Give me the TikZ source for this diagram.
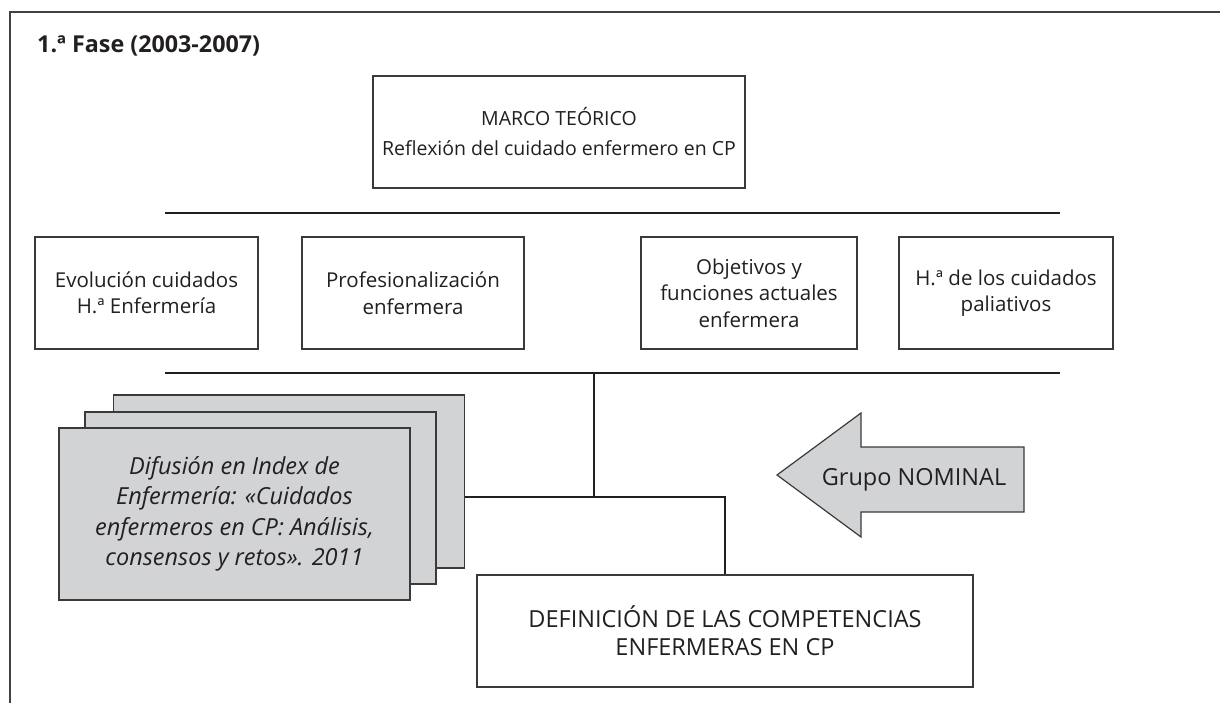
\documentclass[tikz,border=0pt]{standalone}
\usepackage{fontspec}
\setmainfont{Open Sans}
\definecolor{ink}{HTML}{231F20}
\definecolor{boxline}{HTML}{3A3A3A}
\definecolor{grayfill}{HTML}{D2D3D5}
\tikzset{
  box/.style={draw=boxline, line width=1.3pt, fill=white, align=center, inner sep=0pt,
    text=ink, font=\fontsize{20.5}{26.5}\selectfont},
  stackbox/.style={draw=boxline, line width=1.3pt, fill=grayfill, inner sep=0pt,
    minimum width=351pt, minimum height=172pt, align=center, text=ink,
    font=\fontsize{23.5}{30.5}\selectfont\itshape},
  conn/.style={draw=ink, line width=2.2pt},
  frameline/.style={draw=ink!85, line width=1.6pt},
  arrowshape/.style={draw=boxline, line width=1.2pt, fill=grayfill, line join=miter}
}
\begin{document}
\begin{tikzpicture}[x=1pt,y=-1pt]
\useasboundingbox (0,0) rectangle (1220,703);
% outer frame (top and left visible)
\coordinate (fBL) at (10,703);
\coordinate (fTL) at (10,12);
\coordinate (fTR) at (1222,12);
\draw[frameline] (fBL) -- (fTL) -- (fTR);
% title
\node[anchor=west, inner sep=0pt, text=ink, font=\fontsize{23.3}{26}\selectfont\bfseries] (title) at (37,46) {1.ª Fase (2003-2007)};
% top box
\node[box, minimum width=372pt, minimum height=112pt, font=\fontsize{19.5}{30}\selectfont] (marco) at (559,132)
  {MARCO TEÓRICO\\Reflexión del cuidado enfermero en CP};
% bar A
\coordinate (aL) at (165,213);
\coordinate (aR) at (1060,213);
\draw[conn] (aL) -- (aR);
% row of four boxes
\node[box, minimum width=223pt, minimum height=112pt] (b1) at (146.5,293) {Evolución cuidados\\H.ª Enfermería};
\node[box, minimum width=222pt, minimum height=112pt] (b2) at (413,293) {Profesionalización\\enfermera};
\node[box, minimum width=216pt, minimum height=112pt] (b3) at (749,293) {Objetivos y\\funciones actuales\\enfermera};
\node[box, minimum width=214pt, minimum height=112pt] (b4) at (1006,293) {H.ª de los cuidados\\paliativos};
% bar B
\coordinate (bL) at (165,373);
\coordinate (bR) at (1060,373);
\coordinate (bM) at (594,373);
\draw[conn] (bL) -- (bR);
% stack of sheets
\node[stackbox, minimum height=173pt] (back) at (289,481.5) {};
\node[stackbox] (mid) at (260.5,498) {};
\node[stackbox] (front) at (234.5,514)
  {Difusión en Index de\\Enfermería: «Cuidados\\enfermeros en CP: Análisis,\\consensos y retos». 2011};
% bottom box
\node[box, minimum width=496pt, minimum height=112pt, font=\fontsize{23.5}{28}\selectfont] (def) at (725,631)
  {DEFINICIÓN DE LAS COMPETENCIAS\\ENFERMERAS EN CP};
% connectors
\coordinate (j) at (594,497);
\draw[conn] (bM) -- (j);
\draw[conn] (back.east |- j) -- (j) -| (def.north);
% arrow
\draw[arrowshape] (777,475) -- (861,413) -- (861,447) -- (1024,447) -- (1024,512) -- (861,512) -- (861,537) -- cycle;
\node[text=ink, font=\fontsize{23.5}{26}\selectfont, inner sep=0pt] (grupo) at (914,480) {Grupo NOMINAL};
\end{tikzpicture}
\end{document}
